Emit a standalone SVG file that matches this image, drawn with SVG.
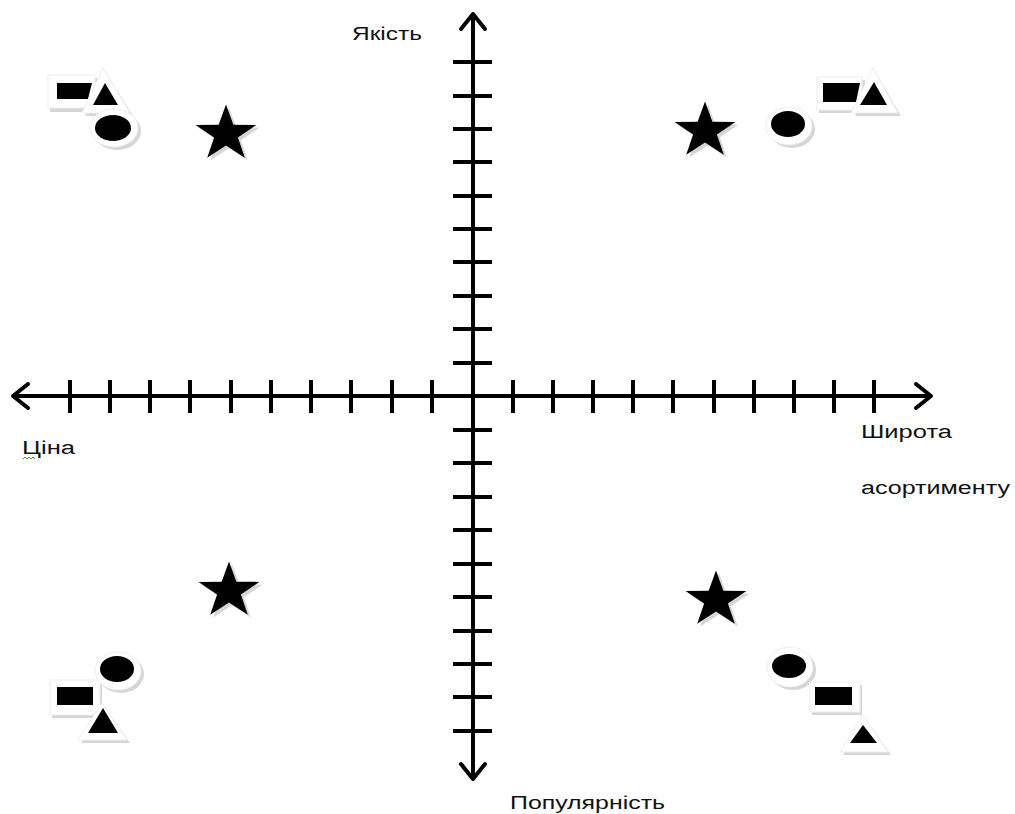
<svg xmlns="http://www.w3.org/2000/svg" width="1015" height="814" viewBox="0 0 1015 814">
<defs>
<style>
.ax{stroke:#000;stroke-width:4;fill:none;stroke-linecap:butt}
.ah{stroke:#000;stroke-width:4;fill:none;stroke-linecap:round;stroke-linejoin:round}
.lbl{font-family:"Liberation Sans",Arial,sans-serif;font-size:18px;fill:#111}
.sh{fill:#c4c4c4;opacity:0.7}
.wh{fill:#fff;stroke:#eeeeee;stroke-width:1}
.bk{fill:#000}
</style>
<path id="star" d="M0,-32 L7.35,-10.11 L30.43,-9.89 L11.89,3.86 L18.81,25.89 L0,12.5 L-18.81,25.89 L-11.89,3.86 L-30.43,-9.89 L-7.35,-10.11 Z"/>
</defs>
<rect width="1015" height="814" fill="#fff"/>

<g id="connectors">
<g id="x-axis">
<line class="ax" x1="13" y1="396" x2="931" y2="396"/>
<polyline class="ah" points="28,384 13,396 28,408"/>
<polyline class="ah" points="916,384 931,396 916,408"/>
<path class="ax" d="M70,380V413 M110,380V413 M150,380V413 M190,380V413 M231,380V413 M271,380V413 M311,380V413 M351,380V413 M392,380V413 M432,380V413 M513,380V413 M553,380V413 M593,380V413 M633,380V413 M673,380V413 M714,380V413 M754,380V413 M794,380V413 M834,380V413 M874,380V413"/>
</g>
<g id="y-axis">
<line class="ax" x1="473" y1="14" x2="473" y2="779"/>
<polyline class="ah" points="461,29 473,14 485,29"/>
<polyline class="ah" points="461,764 473,779 485,764"/>
<path class="ax" d="M453,62H492 M453,96H492 M453,129H492 M453,162H492 M453,196H492 M453,229H492 M453,262H492 M453,296H492 M453,329H492 M453,363H492 M453,430H492 M453,463H492 M453,497H492 M453,530H492 M453,564H492 M453,597H492 M453,631H492 M453,664H492 M453,697H492 M453,731H492"/>
</g>
</g>

<g id="labels">
<text class="lbl" x="352" y="40" textLength="70" lengthAdjust="spacingAndGlyphs">Якість</text>
<text class="lbl" x="22" y="454" textLength="53" lengthAdjust="spacingAndGlyphs">Ціна</text>
<path d="M23,459 l2,-2 l2,2 l2,-2 l2,2 l2,-2 l2,2" fill="none" stroke="#4a9a3a" stroke-width="1"/>
<text class="lbl" x="861" y="438" textLength="91" lengthAdjust="spacingAndGlyphs">Широта</text>
<text class="lbl" x="861" y="494" textLength="149" lengthAdjust="spacingAndGlyphs">асортименту</text>
<text class="lbl" x="510" y="809" textLength="155" lengthAdjust="spacingAndGlyphs">Популярність</text>
</g>

<g id="star-tl" transform="translate(226,134) scale(1,0.92)"><use href="#star" transform="translate(3,3)" class="sh"/><use href="#star" class="bk"/></g>
<g id="star-tr" transform="translate(705,131) scale(1,0.92)"><use href="#star" transform="translate(3,3)" class="sh"/><use href="#star" class="bk"/></g>
<g id="star-bl" transform="translate(229,591) scale(1,0.92)"><use href="#star" transform="translate(3,3)" class="sh"/><use href="#star" class="bk"/></g>
<g id="star-br" transform="translate(716,600) scale(1,0.92)"><use href="#star" transform="translate(3,3)" class="sh"/><use href="#star" class="bk"/></g>

<g id="cluster-tl">
<rect class="sh" x="50" y="78" width="48" height="34"/>
<rect class="wh" x="48" y="75" width="47" height="33"/>
<polygon class="bk" points="57,83 92,83 88,99 57,99"/>
<polygon class="sh" points="105,71 133,116 85,116"/>
<polygon class="wh" points="103,68 130,113 82,113"/>
<polygon class="bk" points="105,83 118,105 93,105"/>
<ellipse class="sh" cx="117" cy="131" rx="24" ry="19"/>
<ellipse class="wh" cx="114" cy="128" rx="24" ry="19"/>
<ellipse class="bk" cx="113" cy="128" rx="18" ry="13"/>
</g>

<g id="cluster-tr">
<ellipse class="sh" cx="792" cy="129" rx="23" ry="19"/>
<ellipse class="wh" cx="789" cy="126" rx="23" ry="19"/>
<ellipse class="bk" cx="788" cy="124" rx="17" ry="13"/>
<rect class="sh" x="819" y="80" width="46" height="33"/>
<rect class="wh" x="817" y="77" width="45" height="33"/>
<polygon class="bk" points="823,83 860,83 856,102 823,102"/>
<polygon class="sh" points="875,71 901,116 855,116"/>
<polygon class="wh" points="873,68 898,113 851,113"/>
<polygon class="bk" points="874,82 887,105 860,105"/>
</g>

<g id="cluster-bl">
<rect class="sh" x="52" y="683" width="50" height="35"/>
<rect class="wh" x="50" y="680" width="50" height="35"/>
<rect class="bk" x="57" y="687" width="36" height="18"/>
<polygon class="sh" points="104,706 130,743 81,743"/>
<polygon class="wh" points="102,703 127,740 78,740"/>
<polygon class="bk" points="103,708 118,733 88,733"/>
<ellipse class="sh" cx="121" cy="674" rx="23" ry="19"/>
<ellipse class="wh" cx="118" cy="671" rx="23" ry="19"/>
<ellipse class="bk" cx="117" cy="669" rx="17" ry="13"/>
</g>

<g id="cluster-br">
<ellipse class="sh" cx="793" cy="670" rx="23" ry="20"/>
<ellipse class="wh" cx="790" cy="667" rx="23" ry="20"/>
<ellipse class="bk" cx="789" cy="666" rx="17" ry="12"/>
<rect class="sh" x="812" y="685" width="50" height="30"/>
<rect class="wh" x="810" y="682" width="50" height="30"/>
<rect class="bk" x="815" y="687" width="37" height="18"/>
<polygon class="sh" points="865,718 891,755 843,755"/>
<polygon class="wh" points="863,715 888,752 840,752"/>
<polygon class="bk" points="863,725 877,743 850,743"/>
</g>
</svg>
